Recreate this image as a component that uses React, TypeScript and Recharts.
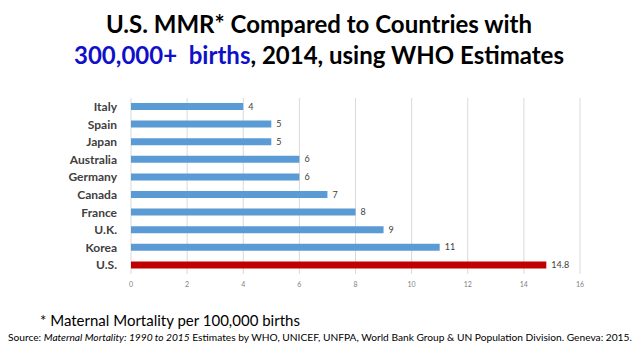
import { BarChart, Bar, XAxis, YAxis, CartesianGrid, Cell, LabelList } from "recharts";

const countries = ["Italy", "Spain", "Japan", "Australia", "Germany", "Canada", "France", "U.K.", "Korea", "U.S."];
const mmr = [4, 5, 5, 6, 6, 7, 8, 9, 11, 14.8];
const xTicks = [0, 2, 4, 6, 8, 10, 12, 14, 16];

const BLUE = "#5B9BD5";
const RED = "#C00000";
const FONT = "Lato, 'Open Sans', sans-serif";

const chartData = countries.map((name, i) => ({ name, value: mmr[i] }));

export default function App() {
    return (
        <div style={{ position: "fixed", left: 0, top: 0, width: 638, height: 359, background: "#fff", fontFamily: FONT, overflow: "hidden" }}>
            <div style={{ position: "absolute", top: 8, left: 0, width: 638, textAlign: "center", fontWeight: 700, fontSize: 24, lineHeight: "31px", color: "#000" }}>
                <div>U.S. MMR* Compared to Countries with</div>
                <div>
                    <span style={{ color: "#1010C8" }}>300,000+&nbsp; births</span>, 2014, using WHO Estimates
                </div>
            </div>
            <BarChart
                width={638}
                height={359}
                data={chartData}
                layout="vertical"
                margin={{ top: 98, right: 58, left: 0, bottom: 65 }}
                barCategoryGap={0}
                style={{ position: "absolute", left: 0, top: 0 }}
            >
                <CartesianGrid horizontal={false} vertical stroke="#D9D9D9" />
                <XAxis
                    type="number"
                    domain={[0, 16]}
                    ticks={xTicks}
                    axisLine={false}
                    tickLine={false}
                    height={20}
                    tick={{ fontSize: 7, fill: "#7F7F7F", fontFamily: FONT }}
                />
                <YAxis
                    type="category"
                    dataKey="name"
                    width={131}
                    interval={0}
                    axisLine={false}
                    tickLine={false}
                    tickMargin={8}
                    tick={{ fontSize: 12, fill: "#404040", fontWeight: 700, fontFamily: FONT }}
                />
                <Bar dataKey="value" barSize={7} isAnimationActive={false}>
                    {chartData.map((d) => (
                        <Cell key={d.name} fill={d.name === "U.S." ? RED : BLUE} />
                    ))}
                    <LabelList dataKey="value" position="right" offset={5} style={{ fontSize: 9, fill: "#404040", fontFamily: FONT }} />
                </Bar>
            </BarChart>
            <div style={{ position: "absolute", left: 40, top: 311, fontSize: 15, color: "#000" }}>
                * Maternal Mortality per 100,000 births
            </div>
            <div style={{ position: "absolute", left: 8, top: 331, fontSize: 10.2, color: "#000", whiteSpace: "nowrap" }}>
                Source: <i>Maternal Mortality: 1990 to 2015</i> Estimates by WHO, UNICEF, UNFPA, World Bank Group &amp; UN Population Division. Geneva: 2015.
            </div>
        </div>
    );
}
